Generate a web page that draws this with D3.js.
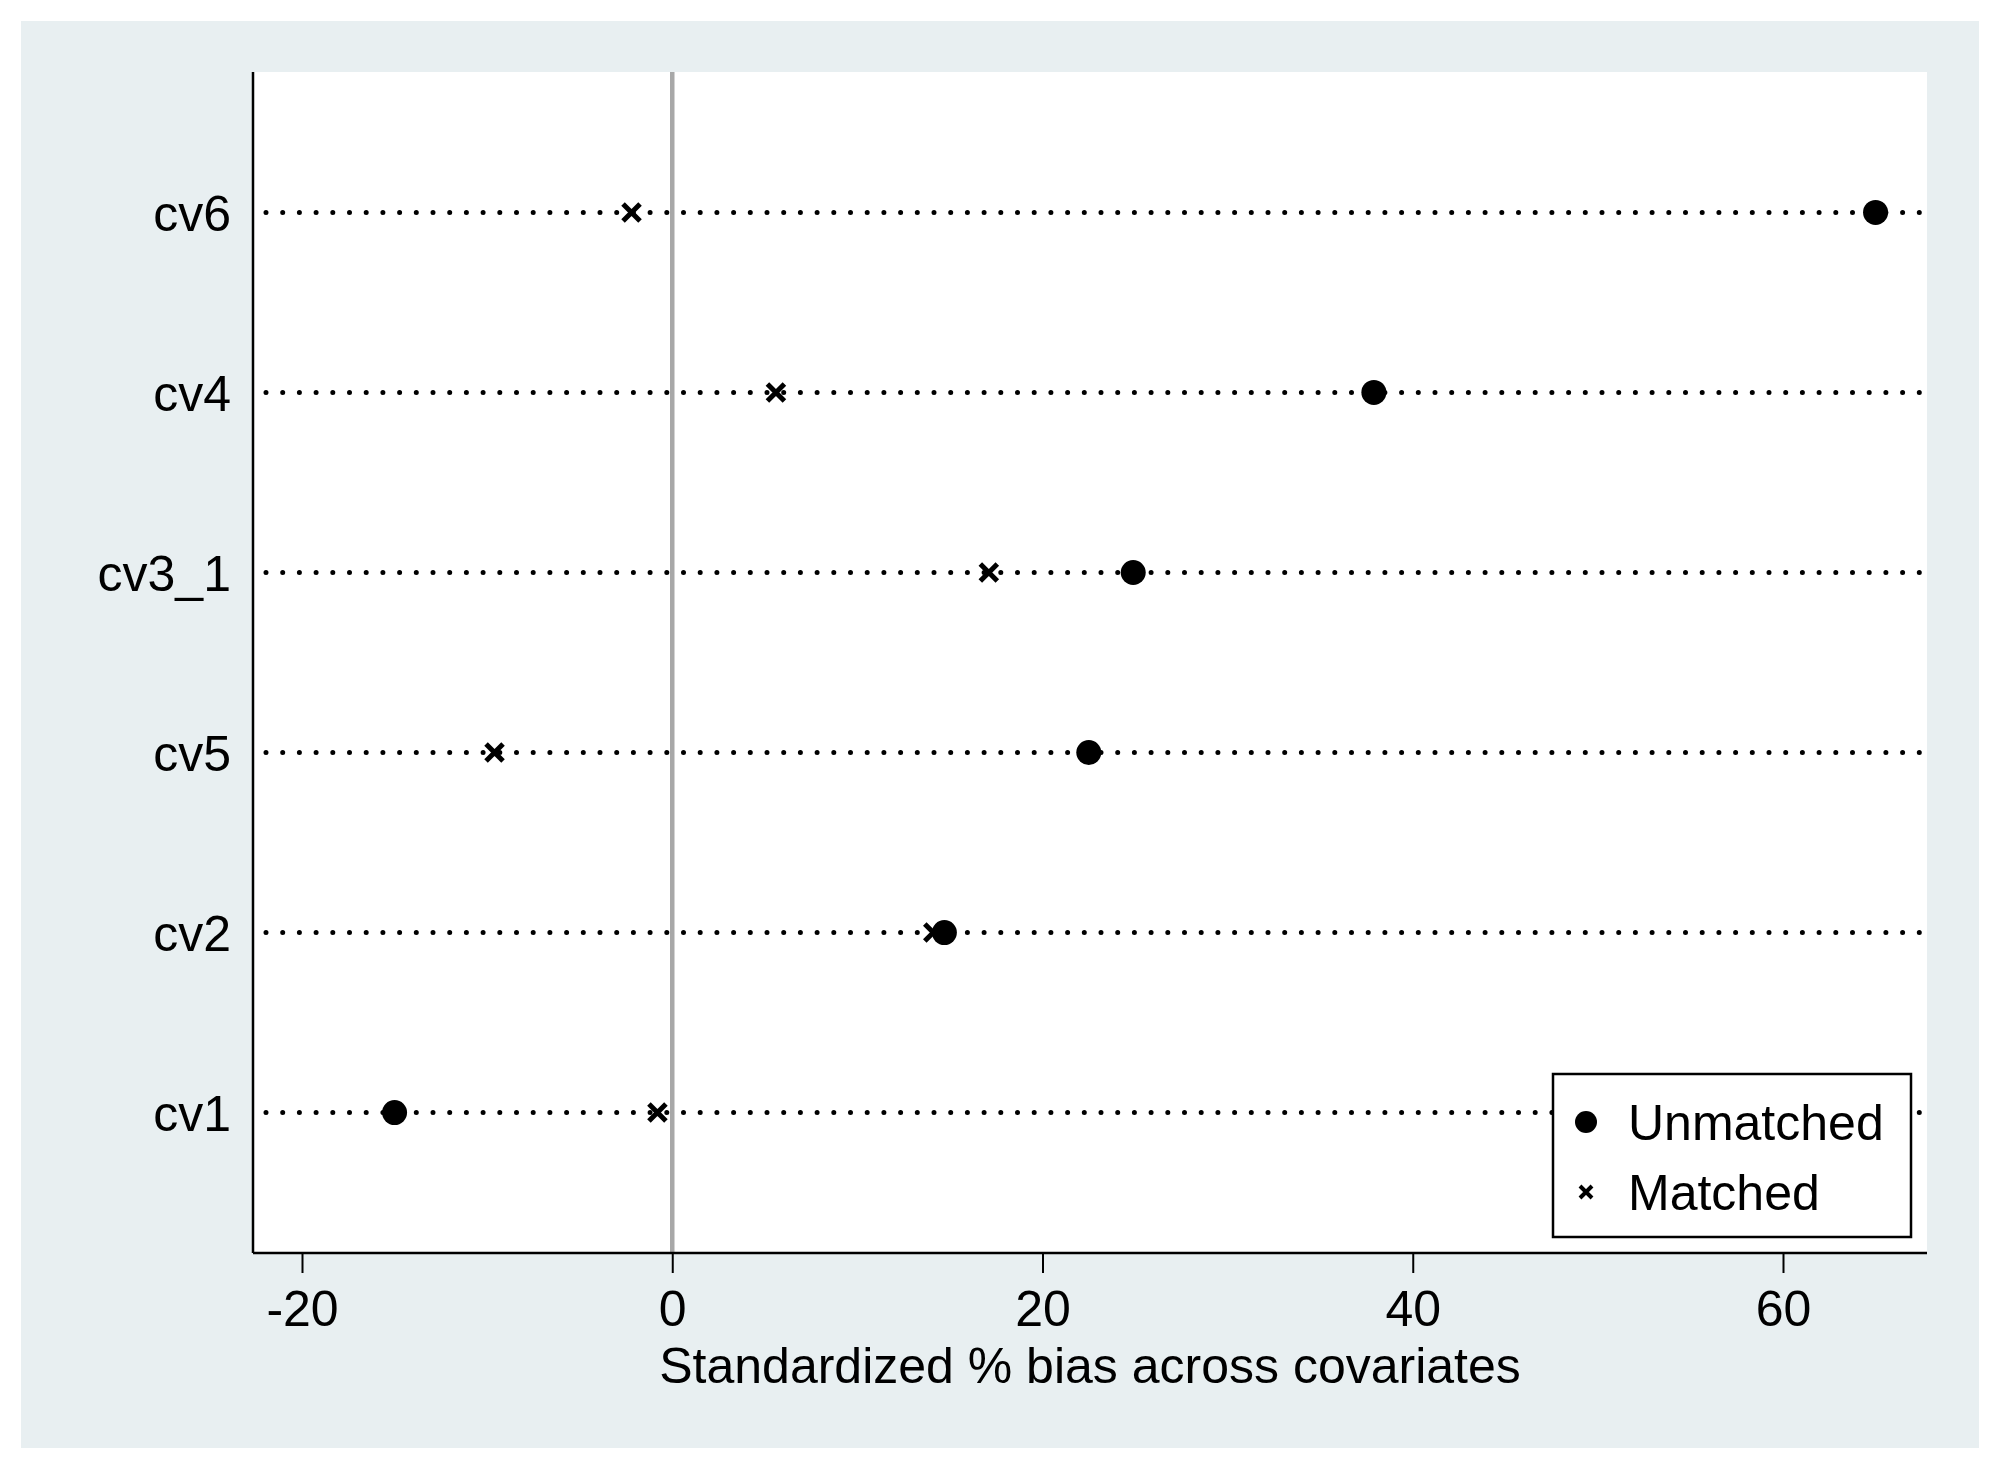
<!DOCTYPE html>
<html>
<head>
<meta charset="utf-8">
<script src="https://cdn.jsdelivr.net/npm/d3@7"></script>
<style>
  html, body { margin: 0; padding: 0; background: #ffffff; }
  svg { display: block; }
  text { font-family: "Liberation Sans", Arial, sans-serif; fill: #000; }
</style>
</head>
<body>
<script>
// ---- data ----
const categories = ["cv6", "cv4", "cv3_1", "cv5", "cv2", "cv1"];
const unmatched = [65.0, 37.9, 24.9, 22.5, 14.7, -15.0];
const matched   = [-2.2, 5.6, 17.1, -9.6, 14.1, -0.8];
const xTicks = [-20, 0, 20, 40, 60];
const xTickLabels = ["-20", "0", "20", "40", "60"];
const seriesNames = ["Unmatched", "Matched"];
const xTitle = "Standardized % bias across covariates";

// ---- layout ----
const W = 2000, H = 1470;
const plot = { left: 253, right: 1927, top: 72, bottom: 1253 };

const svg = d3.select("body").append("svg").attr("width", W).attr("height", H);

// outer panel
svg.append("rect").attr("x", 21).attr("y", 21).attr("width", 1958).attr("height", 1427)
  .attr("fill", "#e8eff1");
// plot region
svg.append("rect").attr("x", plot.left).attr("y", plot.top)
  .attr("width", plot.right - plot.left).attr("height", plot.bottom - plot.top)
  .attr("fill", "#ffffff");

const x = d3.scaleLinear().domain([-20, 60]).range([302, 1783]);
const y = d3.scalePoint().domain(categories).range([plot.top, plot.bottom]).padding(0.78);

// dotted row lines
svg.append("g").selectAll("line").data(categories).join("line")
  .attr("x1", plot.left + 13).attr("x2", plot.right)
  .attr("y1", d => y(d)).attr("y2", d => y(d))
  .attr("stroke", "#000").attr("stroke-width", 5)
  .attr("stroke-linecap", "round").attr("stroke-dasharray", "0 16.7");

// zero line
svg.append("line").attr("x1", x(0)).attr("x2", x(0))
  .attr("y1", plot.top).attr("y2", plot.bottom)
  .attr("stroke", "#a8a8a8").attr("stroke-width", 4.5);

// x axis
const xAxis = d3.axisBottom(x).tickValues(xTicks).tickSize(20).tickPadding(17)
  .tickFormat((d, i) => xTickLabels[i]);
const gx = svg.append("g").attr("transform", `translate(0,${plot.bottom})`).call(xAxis);
gx.select(".domain").attr("d", `M${plot.left},0H${plot.right}`).attr("stroke", "#000").attr("stroke-width", 2.5);
gx.selectAll(".tick line").attr("stroke", "#000").attr("stroke-width", 2);
gx.selectAll(".tick text").attr("font-size", 50).attr("font-family", "Liberation Sans, Arial, sans-serif")
  .attr("fill", "#000").attr("dy", "0.71em");

// y axis
const yAxis = d3.axisLeft(y).tickSize(0).tickPadding(22);
const gy = svg.append("g").attr("transform", `translate(${plot.left},0)`).call(yAxis);
gy.select(".domain").attr("d", `M0,${plot.top}V${plot.bottom}`).attr("stroke", "#000").attr("stroke-width", 2.5);
gy.selectAll(".tick text").attr("font-size", 50).attr("font-family", "Liberation Sans, Arial, sans-serif")
  .attr("fill", "#000").attr("dy", "0.36em");

// axis title
svg.append("text").attr("x", (plot.left + plot.right) / 2).attr("y", 1383)
  .attr("text-anchor", "middle").attr("font-size", 50).text(xTitle);

// unmatched points
svg.append("g").selectAll("circle").data(categories).join("circle")
  .attr("cx", (d, i) => x(unmatched[i])).attr("cy", d => y(d)).attr("r", 12.5).attr("fill", "#000");

// matched points (x marks)
const xs = 8.5;
svg.append("g").selectAll("path").data(categories).join("path")
  .attr("d", (d, i) => {
    const cx = x(matched[i]), cy = y(d);
    return `M${cx - xs},${cy - xs}L${cx + xs},${cy + xs}M${cx - xs},${cy + xs}L${cx + xs},${cy - xs}`;
  })
  .attr("stroke", "#000").attr("stroke-width", 5).attr("fill", "none");

// legend
const lg = svg.append("g");
lg.append("rect").attr("x", 1553).attr("y", 1074).attr("width", 358).attr("height", 163)
  .attr("fill", "#fff").attr("stroke", "#000").attr("stroke-width", 2.5);
lg.append("circle").attr("cx", 1586).attr("cy", 1122).attr("r", 11).attr("fill", "#000");
const lx = 1586, ly = 1192, ls = 6;
lg.append("path").attr("d", `M${lx - ls},${ly - ls}L${lx + ls},${ly + ls}M${lx - ls},${ly + ls}L${lx + ls},${ly - ls}`)
  .attr("stroke", "#000").attr("stroke-width", 4).attr("fill", "none");
lg.append("text").attr("x", 1628).attr("y", 1140).attr("font-size", 50).text(seriesNames[0]);
lg.append("text").attr("x", 1628).attr("y", 1210).attr("font-size", 50).text(seriesNames[1]);
</script>
</body>
</html>
